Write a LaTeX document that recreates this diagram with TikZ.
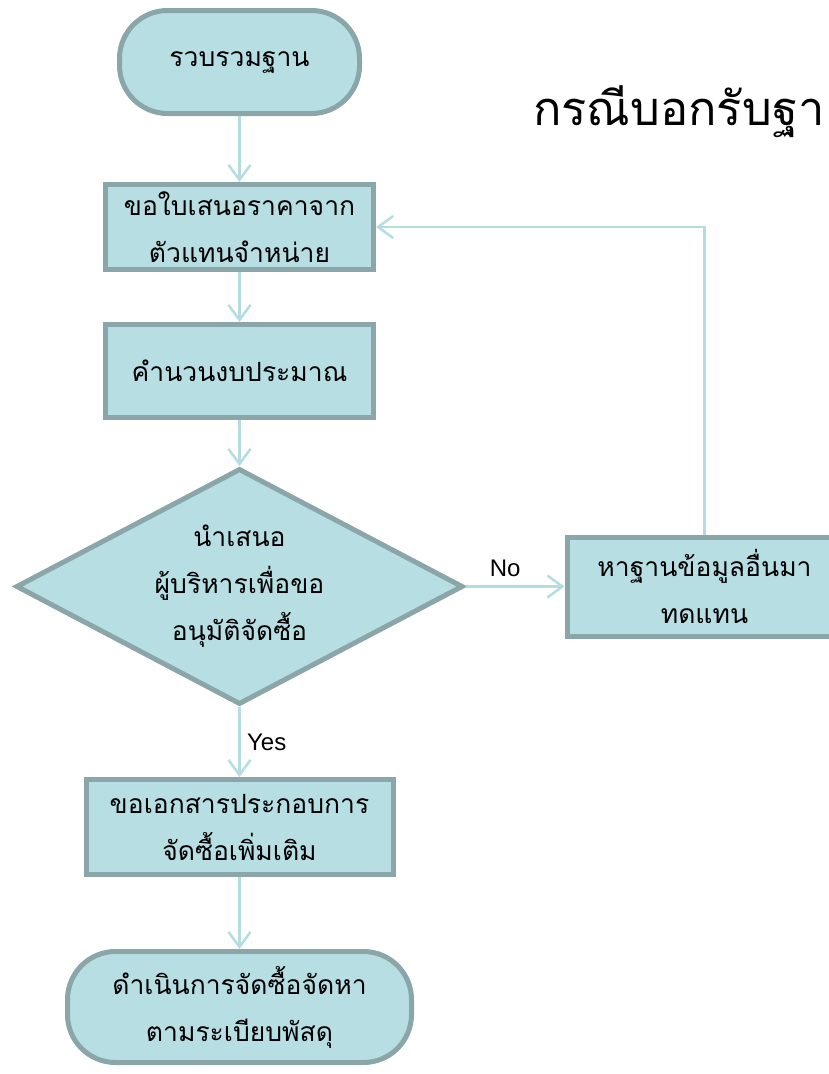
\documentclass[tikz,border=0pt]{standalone}
\usepackage{fontspec}
\setmainfont{Liberation Sans}
\newfontfamily\thaifont[Script=Thai]{Loma}
\usetikzlibrary{positioning,shapes.geometric,arrows.meta}

\definecolor{boxfill}{HTML}{B7DFE3}
\definecolor{boxline}{HTML}{8AA6A9}
\definecolor{flowline}{HTML}{B3DDE1}

\begin{document}
\begin{tikzpicture}[
    node distance=50pt,
    thai/.style={
        font=\thaifont\fontsize{26.5pt}{47pt}\selectfont, align=center
    },
    terminal/.style={
        thai, rectangle, rounded corners=48pt, fill=boxfill, draw=boxline, line width=5pt
    },
    process/.style={
        thai, rectangle, fill=boxfill, draw=boxline, line width=5pt
    },
    decision/.style={
        thai, diamond, aspect=1.9, inner sep=-25pt, fill=boxfill, draw=boxline, line width=5pt
    },
    flow/.style={
        draw=flowline, line width=2.5pt, -{Straight Barb[length=15pt,width=22pt]}
    },
    answer/.style={
        font=\fontsize{24pt}{27pt}\selectfont
    }
]
    \useasboundingbox (0pt,0pt) rectangle (829pt,-1074pt);

    \node (start) [terminal, minimum width=240pt, minimum height=103pt] at (239.5pt,-62pt) {รวบรวมฐาน};
    \node (quote) [process, minimum width=268pt, minimum height=85pt, below=66pt of start] {ขอใบเสนอราคาจาก\\ตัวแทนจำหน่าย};
    \node (budget) [process, minimum width=268pt, minimum height=93pt, below=of quote] {คำนวนงบประมาณ};
    \node (dec) [decision, minimum width=447pt, minimum height=236pt, below=46pt of budget] {นำเสนอ\\ผู้บริหารเพื่อขอ\\อนุมัติจัดซื้อ};
    \node (alt) [process, minimum width=275pt, minimum height=99pt, right=99pt of dec] {หาฐานข้อมูลอื่นมา\\ทดแทน};
    \node (docs) [process, minimum width=307pt, minimum height=95pt, below=70pt of dec] {ขอเอกสารประกอบการ\\จัดซื้อเพิ่มเติม};
    \node (end) [terminal, minimum width=344pt, minimum height=111pt, below=72pt of docs] {ดำเนินการจัดซื้อจัดหา\\ตามระเบียบพัสดุ};

    \node (title) [anchor=base west, inner sep=0pt, font=\thaifont\fontsize{47pt}{52pt}\selectfont] at (533pt,-125pt) {กรณีบอกรับฐา};

    \path [flow]
        (start) edge (quote)
        (quote) edge (budget)
        (budget) edge (dec)
        (dec) edge node [pos=0.4, above=5pt, answer] {No} (alt)
        (dec) edge node [right=3pt, answer] {Yes} (docs)
        (docs) edge (end);

    \draw [flow] (alt.north) |- (quote.east);
\end{tikzpicture}
\end{document}
